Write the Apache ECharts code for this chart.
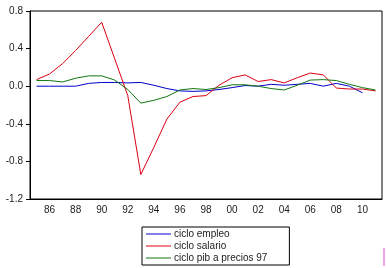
<!DOCTYPE html>
<html>
<head>
<meta charset="utf-8">
<script src="https://cdn.jsdelivr.net/npm/echarts@6/dist/echarts.min.js"></script>
<style>
  html, body { margin: 0; padding: 0; background: #fff; }
  #chart { width: 386px; height: 268px; }
</style>
</head>
<body>
<div id="chart"></div>
<script>
// años 1985 - 2011
var years = ['1985','1986','1987','1988','1989','1990','1991','1992','1993','1994','1995','1996','1997','1998',
  '1999','2000','2001','2002','2003','2004','2005','2006','2007','2008','2009','2010','2011'];

var cicloEmpleo = [0.0, 0.0, 0.0, 0.0, 0.03, 0.04, 0.04, 0.035, 0.04, 0.01, -0.025, -0.05, -0.055, -0.05,
  -0.035, -0.015, 0.007, 0.0, 0.02, 0.01, 0.02, 0.03, 0.0, 0.03, 0.0, -0.07, null];

var cicloSalario = [0.07, 0.13, 0.24, 0.38, 0.53, 0.68, 0.29, -0.1, -0.94, -0.65, -0.35, -0.17, -0.11, -0.1,
  0.01, 0.09, 0.12, 0.05, 0.07, 0.035, 0.09, 0.14, 0.12, -0.02, -0.03, -0.03, -0.05];

var cicloPib = [0.06, 0.06, 0.045, 0.085, 0.11, 0.11, 0.065, -0.035, -0.18, -0.15, -0.11, -0.04, -0.025, -0.035,
  -0.015, 0.015, 0.015, 0.0, -0.025, -0.04, 0.01, 0.065, 0.07, 0.06, 0.02, -0.015, -0.04];

var chart = echarts.init(document.getElementById('chart'));
var font = 'Liberation Sans, Arial, sans-serif';

chart.setOption({
  animation: false,
  backgroundColor: '#fff',
  grid: {
    left: 30, right: 4, top: 11, bottom: 69,
    show: true, borderColor: '#000', borderWidth: 1
  },
  xAxis: {
    type: 'category',
    data: years,
    boundaryGap: true,
    axisLine: { onZero: false, lineStyle: { color: '#000', width: 1 } },
    axisTick: { interval: 0, length: 4, lineStyle: { color: '#000' } },
    axisLabel: {
      interval: function (idx) { return idx % 2 === 1; },
      formatter: function (v) { return v.slice(2); },
      color: '#222', fontFamily: font, fontSize: 10, margin: 6
    },
    splitLine: { show: false }
  },
  yAxis: {
    type: 'value',
    min: -1.2, max: 0.8, interval: 0.4,
    axisLine: { show: true, lineStyle: { color: '#000', width: 1 } },
    axisTick: { show: true, length: 4, lineStyle: { color: '#000' } },
    axisLabel: {
      formatter: function (v) { return v.toFixed(1); },
      color: '#222', fontFamily: font, fontSize: 10, margin: 7
    },
    splitLine: { show: false }
  },
  legend: {
    orient: 'vertical',
    left: 142, top: 227,
    width: 128, height: 40,
    borderColor: '#000', borderWidth: 1,
    padding: [1, 22, 1, 4],
    icon: 'rect',
    itemWidth: 25, itemHeight: 1, itemGap: 0,
    textStyle: { fontFamily: font, fontSize: 10, color: '#222', lineHeight: 12, padding: [0, 0, 0, -2] },
    data: ['ciclo empleo', 'ciclo salario', 'ciclo pib a precios 97']
  },
  graphic: [{
    type: 'rect', left: 383, top: 248,
    shape: { width: 2, height: 18 },
    style: { fill: '#f2a6e6' }
  }],
  series: [
    { name: 'ciclo empleo', type: 'line', data: cicloEmpleo, symbol: 'none',
      lineStyle: { color: '#0000cc', width: 1 }, itemStyle: { color: '#0000cc' } },
    { name: 'ciclo salario', type: 'line', data: cicloSalario, symbol: 'none',
      lineStyle: { color: '#dd0011', width: 1 }, itemStyle: { color: '#dd0011' } },
    { name: 'ciclo pib a precios 97', type: 'line', data: cicloPib, symbol: 'none',
      lineStyle: { color: '#117711', width: 1 }, itemStyle: { color: '#117711' } }
  ]
});
</script>
</body>
</html>
